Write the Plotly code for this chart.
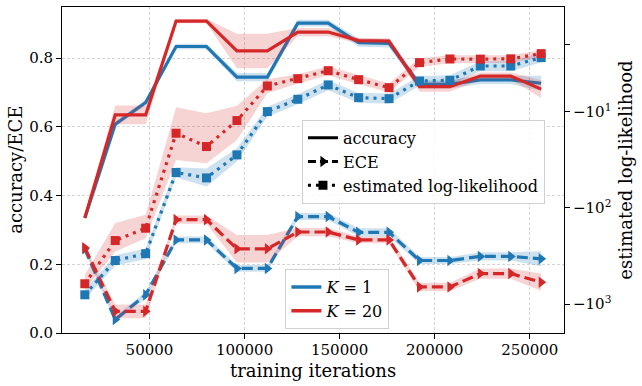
import plotly.graph_objects as go
import numpy as np

# training iterations
iterations = [16000 * (i + 1) for i in range(16)]

# accuracy (mean, std)
acc_k1 = [0.335, 0.608, 0.671, 0.834, 0.834, 0.745, 0.745, 0.902, 0.902, 0.845, 0.843, 0.724, 0.724, 0.737, 0.737, 0.727]
acc_k1_std = [0.005, 0.008, 0.008, 0.008, 0.008, 0.012, 0.012, 0.01, 0.01, 0.012, 0.012, 0.012, 0.012, 0.012, 0.012, 0.022]
acc_k20 = [0.335, 0.635, 0.635, 0.908, 0.908, 0.821, 0.821, 0.876, 0.876, 0.851, 0.850, 0.717, 0.717, 0.748, 0.748, 0.710]
acc_k20_std = [0.005, 0.027, 0.027, 0.006, 0.006, 0.05, 0.05, 0.012, 0.012, 0.008, 0.008, 0.015, 0.015, 0.01, 0.01, 0.026]

# ECE (mean, std)
ece_k1 = [0.245, 0.039, 0.111, 0.271, 0.271, 0.188, 0.188, 0.339, 0.339, 0.293, 0.293, 0.211, 0.211, 0.223, 0.223, 0.216]
ece_k1_std = [0.005, 0.008, 0.01, 0.01, 0.01, 0.01, 0.01, 0.01, 0.01, 0.012, 0.012, 0.01, 0.01, 0.012, 0.012, 0.022]
ece_k20 = [0.248, 0.063, 0.063, 0.330, 0.330, 0.245, 0.245, 0.294, 0.294, 0.271, 0.271, 0.134, 0.134, 0.173, 0.173, 0.148]
ece_k20_std = [0.005, 0.02, 0.02, 0.012, 0.012, 0.04, 0.04, 0.012, 0.012, 0.01, 0.01, 0.012, 0.012, 0.015, 0.015, 0.025]

# estimated log-likelihood (mean, lower, upper)
ll_k1 = [-802, -353, -300, -43, -48.9, -28.2, -10, -7.45, -5.29, -7.17, -7.34, -4.81, -4.73, -3.36, -3.36, -2.75]
ll_k1_lo = [-900, -400, -340, -48.5, -60, -33, -11.3, -8.4, -6.0, -8.1, -8.3, -5.4, -5.3, -3.8, -3.8, -3.1]
ll_k1_hi = [-715, -312, -265, -38, -39, -24, -8.9, -6.6, -4.7, -6.4, -6.5, -4.3, -4.2, -3.0, -3.0, -2.45]
ll_k20 = [-616, -219, -163, -16.8, -23.1, -12.4, -5.42, -4.55, -3.76, -4.66, -5.64, -3.10, -2.84, -2.85, -2.83, -2.50]
ll_k20_lo = [-711, -285, -207, -31.8, -34.4, -19.7, -6.45, -5.1, -4.2, -5.2, -6.3, -3.45, -3.15, -3.15, -3.1, -2.75]
ll_k20_hi = [-497, -144, -118, -9.0, -10.4, -8.7, -4.61, -4.1, -3.4, -4.2, -5.1, -2.8, -2.6, -2.6, -2.6, -2.3]

x_ticks = [50000, 100000, 150000, 200000, 250000]
y_ticks = [0.0, 0.2, 0.4, 0.6, 0.8]
ll_ticks = [-2, -10, -100, -1000]
ll_ticktext = ['', '\u221210<sup>1</sup>', '\u221210<sup>2</sup>', '\u221210<sup>3</sup>']

BLUE = '#1f77b4'
RED = '#d62728'
FILL = {BLUE: 'rgba(31,119,180,0.22)', RED: 'rgba(214,39,40,0.2)'}
FONT = 'DejaVu Serif'


def symlog(v, linthresh=2.0):
    v = np.asarray(v, dtype=float)
    lsa = 1.0 / (1.0 - 1.0 / 10.0)
    a = np.abs(v)
    out = np.where(a > linthresh, linthresh * (lsa + np.log10(np.maximum(a, 1e-12) / linthresh)), a * lsa)
    return np.sign(v) * out


def band(fig, x, lo, hi, color, yaxis='y'):
    fig.add_trace(go.Scatter(
        x=list(x) + list(x)[::-1], y=list(hi) + list(lo)[::-1],
        fill='toself', fillcolor=FILL[color], line=dict(width=0),
        mode='lines', showlegend=False, hoverinfo='skip', yaxis=yaxis))


fig = go.Figure()

series = [(acc_k1, acc_k1_std, ece_k1, ece_k1_std, ll_k1, ll_k1_lo, ll_k1_hi, BLUE),
          (acc_k20, acc_k20_std, ece_k20, ece_k20_std, ll_k20, ll_k20_lo, ll_k20_hi, RED)]

for acc, acc_std, ece, ece_std, ll, ll_lo, ll_hi, color in series:
    acc_a, acc_s = np.array(acc), np.array(acc_std)
    band(fig, iterations, acc_a - acc_s, acc_a + acc_s, color)
    fig.add_trace(go.Scatter(x=iterations, y=acc, mode='lines', showlegend=False,
                             line=dict(color=color, width=3.2)))
    ece_a, ece_s = np.array(ece), np.array(ece_std)
    band(fig, iterations, ece_a - ece_s, ece_a + ece_s, color)
    fig.add_trace(go.Scatter(x=iterations, y=ece, mode='lines+markers', showlegend=False,
                             line=dict(color=color, width=3.2, dash='11px,5px'),
                             marker=dict(symbol='triangle-right', size=10, color=color)))

for acc, acc_std, ece, ece_std, ll, ll_lo, ll_hi, color in series:
    band(fig, iterations, symlog(ll_lo), symlog(ll_hi), color, yaxis='y2')
    fig.add_trace(go.Scatter(x=iterations, y=symlog(ll), mode='lines+markers', showlegend=False,
                             line=dict(color=color, width=3.2, dash='3px,5px'),
                             marker=dict(symbol='square', size=9, color=color), yaxis='y2'))

# legend: line styles
fig.add_trace(go.Scatter(x=[None], y=[None], mode='lines', name='accuracy',
                         line=dict(color='black', width=3), legend='legend'))
fig.add_trace(go.Scatter(x=[None], y=[None], mode='lines+markers', name='ECE',
                         line=dict(color='black', width=3, dash='8px,4px'),
                         marker=dict(symbol='triangle-right', size=10, color='black'), legend='legend'))
fig.add_trace(go.Scatter(x=[None], y=[None], mode='lines+markers', name='estimated log-likelihood',
                         line=dict(color='black', width=3, dash='3px,5px'),
                         marker=dict(symbol='square', size=9, color='black'), legend='legend'))
# legend: K
fig.add_trace(go.Scatter(x=[None], y=[None], mode='lines', name='<i>K</i> = 1',
                         line=dict(color=BLUE, width=3.5), legend='legend2'))
fig.add_trace(go.Scatter(x=[None], y=[None], mode='lines', name='<i>K</i> = 20',
                         line=dict(color=RED, width=3.5), legend='legend2'))

legend_style = dict(font=dict(family=FONT, size=16, color='black'), bgcolor='rgba(255,255,255,0.85)',
                    bordercolor='#d0d0d0', borderwidth=1, xanchor='left', yanchor='top',
                    itemwidth=30, tracegroupgap=0)

grid = dict(showgrid=True, gridcolor='#d4d4d4', griddash='3px,2px', gridwidth=0.7, zeroline=False)
ax_line = dict(showline=True, linecolor='black', linewidth=1, ticks='outside', ticklen=5,
               tickcolor='black', automargin=False)

fig.update_layout(
    width=642, height=386,
    margin=dict(l=62, r=78, t=7, b=53),
    plot_bgcolor='white', paper_bgcolor='white',
    font=dict(family=FONT, size=15, color='black'),
    legend=dict(x=0.478, y=0.654, **legend_style),
    legend2=dict(x=0.445, y=0.196, **legend_style),
    xaxis=dict(range=[4000, 268000], tickvals=x_ticks, ticktext=[str(v) for v in x_ticks],
               mirror=True, ticklabelstandoff=-2, **ax_line, **grid),
    yaxis=dict(range=[0, 0.949], tickvals=y_ticks, tickformat='.1f', **ax_line, **grid),
    yaxis2=dict(overlaying='y', side='right', range=[-8.223, -1.4467],
                tickvals=symlog(ll_ticks), ticktext=ll_ticktext, showgrid=False, zeroline=False,
                **ax_line),
    annotations=[
        dict(text='training iterations', xref='paper', yref='paper', x=0.5, y=-0.116,
             xanchor='center', yanchor='middle', showarrow=False, font=dict(size=18)),
        dict(text='accuracy/ECE', xref='paper', yref='paper', x=-0.094, y=0.5, textangle=-90,
             xanchor='center', yanchor='middle', showarrow=False, font=dict(size=18)),
        dict(text='estimated log-likelihood', xref='paper', yref='paper', x=1.121, y=0.5,
             textangle=-90, xanchor='center', yanchor='middle', showarrow=False,
             font=dict(size=18)),
    ],
)

fig.write_html("out.html", config={'displayModeBar': False},
               post_script="document.body.style.margin='0';")
